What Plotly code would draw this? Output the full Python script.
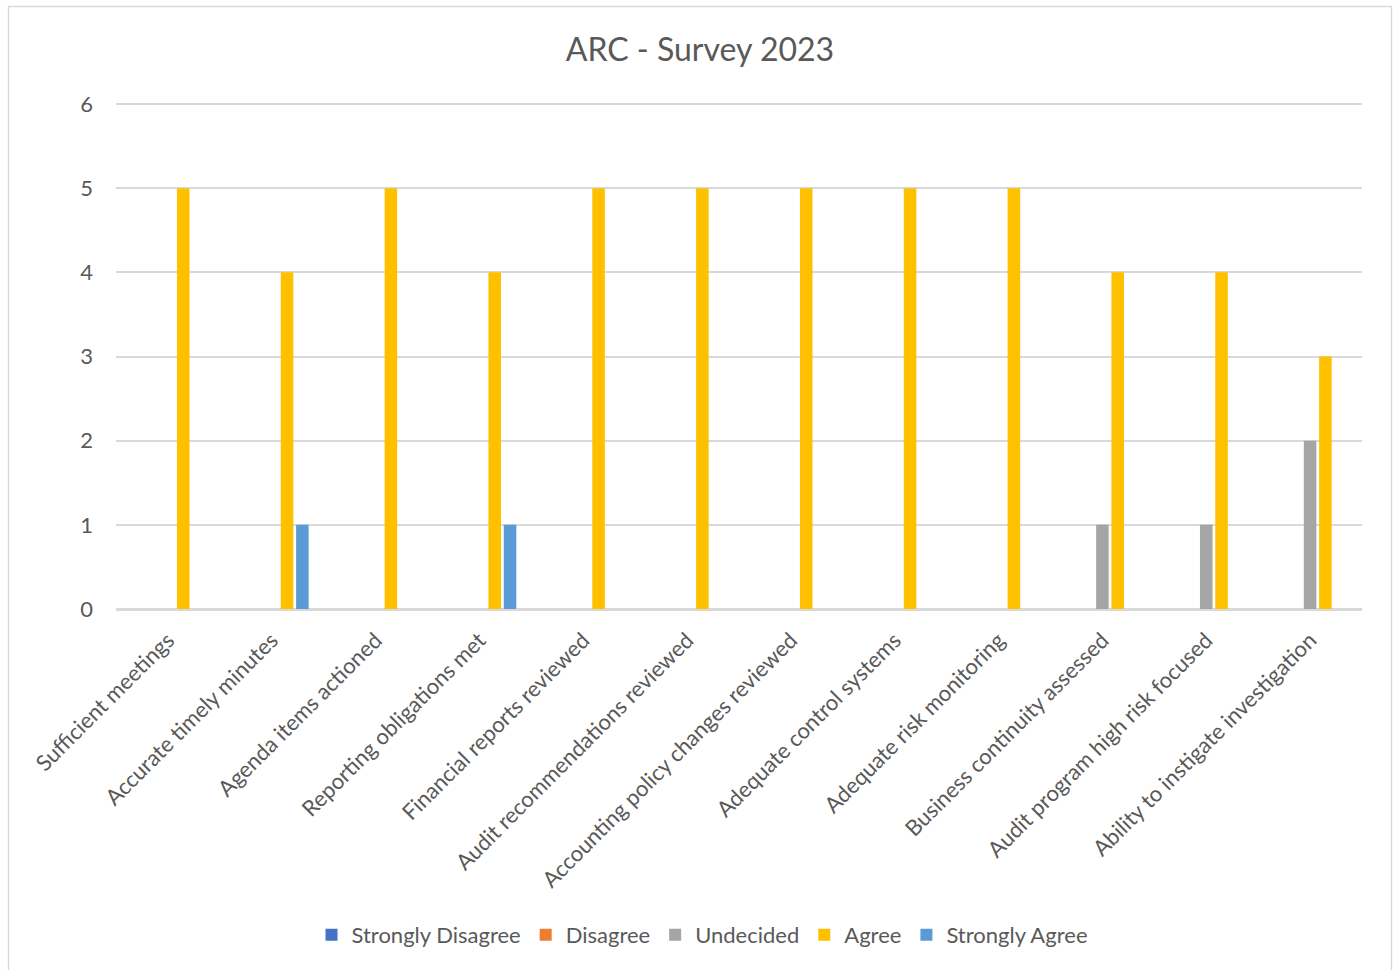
import plotly.graph_objects as go

categories = [
    "Sufficient meetings",
    "Accurate timely minutes",
    "Agenda items actioned",
    "Reporting obligations met",
    "Financial reports reviewed",
    "Audit recommendations reviewed",
    "Accounting policy changes reviewed",
    "Adequate control systems",
    "Adequate risk monitoring",
    "Business continuity assessed",
    "Audit program high risk focused",
    "Ability to instigate investigation",
]

strongly_disagree = [0, 0, 0, 0, 0, 0, 0, 0, 0, 0, 0, 0]
disagree = [0, 0, 0, 0, 0, 0, 0, 0, 0, 0, 0, 0]
undecided = [0, 0, 0, 0, 0, 0, 0, 0, 0, 1, 1, 2]
agree = [5, 4, 5, 4, 5, 5, 5, 5, 5, 4, 4, 3]
strongly_agree = [0, 1, 0, 1, 0, 0, 0, 0, 0, 0, 0, 0]

series_names = ["Strongly Disagree", "Disagree", "Undecided", "Agree", "Strongly Agree"]
series_values = [strongly_disagree, disagree, undecided, agree, strongly_agree]
series_colors = ["#4472C4", "#ED7D31", "#A5A5A5", "#FFC000", "#5B9BD5"]
y_ticks = [0, 1, 2, 3, 4, 5, 6]

FONT = "Lato, 'Open Sans', sans-serif"
TEXT = "#595959"
GRID = "#D9D9D9"

fig = go.Figure()
for name, vals, col in zip(series_names, series_values, series_colors):
    fig.add_trace(go.Bar(
        x=categories, y=vals, name=name,
        marker=dict(color=col, line=dict(width=0)),
    ))

W, H = 1395, 970
ml, mr, mt, mb = 116, 33, 100, 361
pw = W - ml - mr
ph = H - mt - mb
y_top = 6 * ph / 505.0  # keep value 6 at ~104px, leaving room for the top gridline

def px_to_paper_x(px):
    return (px - ml) / pw

def px_to_paper_y(py):
    return 1 - (py - mt) / ph

fig.add_shape(
    type="rect", xref="paper", yref="paper",
    x0=px_to_paper_x(8.5), x1=px_to_paper_x(1391.5),
    y0=px_to_paper_y(980), y1=px_to_paper_y(6.5),
    line=dict(color=GRID, width=1.5), fillcolor="rgba(0,0,0,0)", layer="below",
)

fig.update_layout(
    width=W, height=H,
    margin=dict(l=ml, r=mr, t=mt, b=mb, autoexpand=False),
    paper_bgcolor="white", plot_bgcolor="white",
    barmode="group", bargap=0.263, bargroupgap=0.18,
    font=dict(family=FONT, color=TEXT, size=22),
    title=dict(
        text="ARC - Survey 2023", x=700 / W, xref="container", xanchor="center",
        y=1 - 50 / H, yref="container", yanchor="middle",
        font=dict(family=FONT, size=32, color=TEXT),
    ),
    legend=dict(
        orientation="h", x=702 / W, xref="container", xanchor="center",
        y=1 - 935 / H, yref="container", yanchor="middle",
        font=dict(family=FONT, size=22, color=TEXT),
        itemclick=False, traceorder="normal", itemwidth=30,
    ),
    showlegend=True,
)

fig.update_xaxes(
    tickangle=-45, showgrid=False, showline=True, linecolor=GRID, linewidth=1.5,
    ticks="", tickfont=dict(family=FONT, size=22, color=TEXT),
    ticklabelstandoff=8,
)
fig.update_yaxes(
    range=[0, y_top], tickvals=y_ticks, showgrid=True, gridcolor=GRID, gridwidth=1.5,
    zeroline=True, zerolinecolor=GRID, zerolinewidth=1.5, showline=False,
    ticks="", tickfont=dict(family=FONT, size=22, color=TEXT),
    ticklabelstandoff=22,
)

fig.write_html("out.html")
